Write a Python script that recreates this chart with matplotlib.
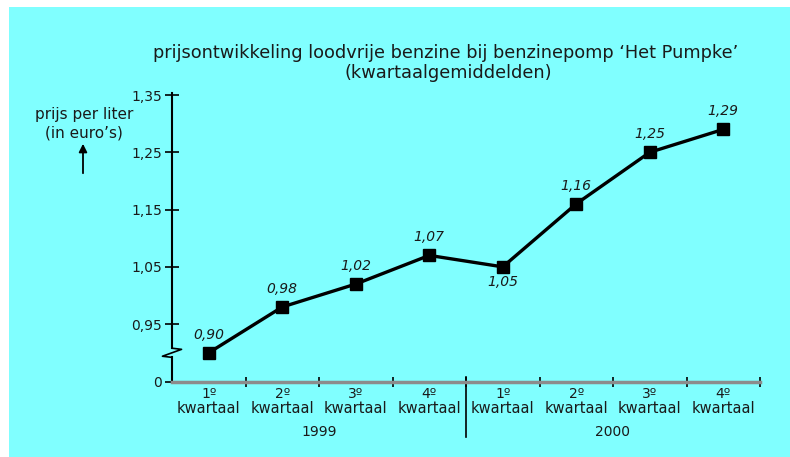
import matplotlib.pyplot as plt
from matplotlib.patches import Rectangle
import matplotlib.transforms as mtransforms

# data
quarters = ['1º', '2º', '3º', '4º', '1º', '2º', '3º', '4º']
years = ['1999', '2000']
prices = [0.90, 0.98, 1.02, 1.07, 1.05, 1.16, 1.25, 1.29]
price_labels = ['0,90', '0,98', '1,02', '1,07', '1,05', '1,16', '1,25', '1,29']
ytick_vals = [0.849, 0.95, 1.05, 1.15, 1.25, 1.35]
ytick_labels = ['0', '0,95', '1,05', '1,15', '1,25', '1,35']

plt.rcParams['font.family'] = ['DejaVu Sans']
txt = '#1a1a1a'

fig = plt.figure(figsize=(7.9, 4.57), dpi=100, facecolor='white')
# cyan panel
fig.patches.append(Rectangle((9 / 790, 0), 1 - 9 / 790, 450 / 457,
                             transform=fig.transFigure, facecolor='#80ffff',
                             edgecolor='none', zorder=-10))

ax = fig.add_axes([172 / 790, 75 / 457, 588 / 790, 288.7 / 457])
ax.set_facecolor('none')
x = list(range(len(prices)))
ax.set_xlim(-0.5, 7.5)
ax.set_ylim(0.849, 1.353)

ax.plot(x, prices, color='black', lw=2.4, marker='s', markersize=9,
        markerfacecolor='black', zorder=3)

for i, (v, lab) in enumerate(zip(prices, price_labels)):
    if i == 4:
        ax.annotate(lab, (i, v), xytext=(0, -15), textcoords='offset pixels',
                    ha='center', va='center', style='italic', fontsize=10, color=txt)
    else:
        ax.annotate(lab, (i, v), xytext=(0, 18), textcoords='offset pixels',
                    ha='center', va='center', style='italic', fontsize=10, color=txt)

# spines
for s in ['top', 'right', 'left']:
    ax.spines[s].set_visible(False)
ax.spines['bottom'].set_color('#8c8c8c')
ax.spines['bottom'].set_linewidth(2.5)

# y axis with break
ax.plot([-0.5, -0.5], [1.353, 0.908], color='black', lw=1.5, clip_on=False)
ax.plot([-0.5, -0.37, -0.63, -0.5], [0.908, 0.906, 0.894, 0.892],
        color='black', lw=1.2, clip_on=False)
ax.plot([-0.5, -0.5], [0.892, 0.849], color='black', lw=1.5, clip_on=False)

ax.set_yticks(ytick_vals)
ax.set_yticklabels(ytick_labels, fontsize=10, color=txt)
ax.tick_params(axis='y', direction='inout', length=10, width=1.2, color='black', pad=2)

ax.set_xticks([b + 0.5 for b in range(0, 8)])
ax.set_xticklabels([])
ax.tick_params(axis='x', direction='inout', length=7, width=1.2, color='black')

# x labels
for i, q in enumerate(quarters):
    ax.annotate(q, (i, 0.849), xytext=(0, -12), textcoords='offset pixels',
                ha='center', va='center', fontsize=10, color=txt, annotation_clip=False)
    ax.annotate('kwartaal', (i, 0.849), xytext=(0, -27), textcoords='offset pixels',
                ha='center', va='center', fontsize=10.5, color=txt, annotation_clip=False)
for j, yr in enumerate(years):
    ax.annotate(yr, (1.5 + 4 * j, 0.849), xytext=(0, -50), textcoords='offset pixels',
                ha='center', va='center', fontsize=10, color=txt, annotation_clip=False)

trans = mtransforms.blended_transform_factory(ax.transData, fig.transFigure)
ax.plot([3.5, 3.5], [1 - 377 / 457, 1 - 437 / 457], color='black', lw=1.2,
        transform=trans, clip_on=False)

# titles
fig.text(446 / 790, 1 - 53 / 457, "prijsontwikkeling loodvrije benzine bij benzinepomp \u2018Het Pumpke\u2019",
         ha='center', va='center', fontsize=12.8, color=txt)
fig.text(448 / 790, 1 - 73 / 457, '(kwartaalgemiddelden)',
         ha='center', va='center', fontsize=12.8, color=txt)

fig.text(84 / 790, 1 - 115 / 457, 'prijs per liter', ha='center', va='center',
         fontsize=11, color=txt)
fig.text(84 / 790, 1 - 133 / 457, "(in euro\u2019s)", ha='center', va='center',
         fontsize=11, color=txt)
ax.annotate('', xy=(83 / 790, 1 - 141 / 457), xytext=(83 / 790, 1 - 176 / 457),
            xycoords='figure fraction', textcoords='figure fraction',
            arrowprops=dict(arrowstyle='-|>', color='black', lw=1.3, mutation_scale=12))

fig.savefig('out.png', dpi=100, facecolor='white')
